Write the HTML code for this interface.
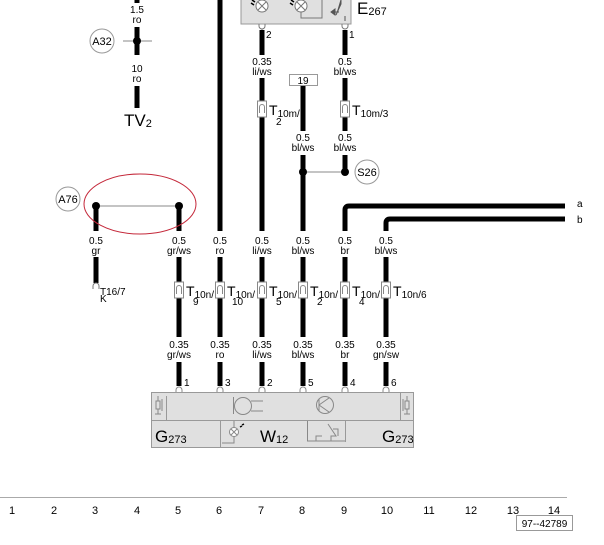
<!DOCTYPE html>
<html><head><meta charset="utf-8"><style>
html,body{margin:0;padding:0;background:#fff;}
svg{display:block;font-family:"Liberation Sans",Arial,sans-serif;}
.l{font-size:10px;fill:#000;text-anchor:middle;}
</style></head><body>
<svg width="604" height="545" viewBox="0 0 604 545" xmlns="http://www.w3.org/2000/svg">
<!-- TV2 wire area -->
<line x1="137" y1="0" x2="137" y2="3" stroke="#000" stroke-width="5"/>
<text class="l" x="137" y="13">1.5</text>
<text class="l" x="137" y="23">ro</text>
<line x1="137" y1="27" x2="137" y2="55" stroke="#000" stroke-width="5"/>
<line x1="123" y1="41" x2="152" y2="41" stroke="#888" stroke-width="1"/>
<circle cx="137" cy="41" r="4" fill="#000"/>
<circle cx="102" cy="41" r="12" fill="#fff" stroke="#999" stroke-width="1"/>
<text x="102" y="45" font-size="11" text-anchor="middle">A32</text>
<text class="l" x="137" y="72">10</text>
<text class="l" x="137" y="82">ro</text>
<line x1="137" y1="86" x2="137" y2="108" stroke="#000" stroke-width="5"/>
<text x="124" y="126" font-size="17">TV<tspan font-size="11" dy="1">2</tspan></text>

<!-- col6 long wire -->
<line x1="220" y1="0" x2="220" y2="231" stroke="#000" stroke-width="5"/>

<!-- E267 component -->
<rect x="241" y="-5" width="110" height="29" fill="#e0e0e0" stroke="#999" stroke-width="1"/>
<circle cx="262" cy="6" r="6" fill="#fff" stroke="#777"/>
<path d="M258 2 L266 10 M266 2 L258 10" stroke="#777" stroke-width="1"/>
<circle cx="301" cy="6" r="6" fill="#fff" stroke="#777"/>
<path d="M297 2 L305 10 M305 2 L297 10" stroke="#777" stroke-width="1"/>
<path d="M251 3 l3 2 M252 0 l3 2 M290 3 l3 2 M291 0 l3 2" stroke="#000" stroke-width="1.5"/>
<path d="M301 12 L301 18 L322 18 L322 -2" fill="none" stroke="#777" stroke-width="1"/>
<path d="M341 -2 L341 4 L336 15 M345 16 L345 21 M334 12 L339 12 M331 12 l4 -3 l0 6 z" fill="#555" stroke="#555" stroke-width="1"/>
<text x="357" y="14" font-size="17">E<tspan font-size="11" dy="1">267</tspan></text>
<path d="M259 24 L259 26 A3 3 0 0 0 265 26 L265 24 M262 29 L262 30" fill="none" stroke="#777" stroke-width="1"/>
<path d="M342 24 L342 26 A3 3 0 0 0 348 26 L348 24" fill="none" stroke="#777" stroke-width="1"/>
<text x="266" y="38" font-size="10">2</text>
<text x="349" y="38" font-size="10">1</text>

<!-- col7 top -->
<line x1="262" y1="30" x2="262" y2="55" stroke="#000" stroke-width="5"/>
<text class="l" x="262" y="65">0.35</text>
<text class="l" x="262" y="75">li/ws</text>
<line x1="262" y1="78" x2="262" y2="231" stroke="#000" stroke-width="5"/>
<rect x="257.5" y="101" width="9" height="16" fill="#fff" stroke="#888"/>
<path d="M259.5 113 L259.5 107 A2.5 2.5 0 0 1 264.5 107 L264.5 113" fill="none" stroke="#888"/>
<text x="269" y="115" font-size="14">T<tspan font-size="10" dy="2">10m/</tspan></text>
<text x="276" y="125" font-size="10">2</text>

<!-- col9 top -->
<line x1="345" y1="30" x2="345" y2="55" stroke="#000" stroke-width="5"/>
<text class="l" x="345" y="65">0.5</text>
<text class="l" x="345" y="75">bl/ws</text>
<line x1="345" y1="78" x2="345" y2="131" stroke="#000" stroke-width="5"/>
<rect x="340.5" y="101" width="9" height="16" fill="#fff" stroke="#888"/>
<path d="M342.5 113 L342.5 107 A2.5 2.5 0 0 1 347.5 107 L347.5 113" fill="none" stroke="#888"/>
<text x="352" y="115" font-size="14">T<tspan font-size="10" dy="2">10m/3</tspan></text>

<!-- 19 box & col8 -->
<rect x="289.5" y="74.5" width="28" height="11" fill="#fff" stroke="#999"/>
<text x="303" y="84" font-size="10" text-anchor="middle">19</text>
<line x1="303" y1="86" x2="303" y2="131" stroke="#000" stroke-width="5"/>
<text class="l" x="303" y="141">0.5</text>
<text class="l" x="303" y="151">bl/ws</text>
<text class="l" x="345" y="141">0.5</text>
<text class="l" x="345" y="151">bl/ws</text>
<line x1="303" y1="155" x2="303" y2="231" stroke="#000" stroke-width="5"/>
<line x1="345" y1="155" x2="345" y2="171" stroke="#000" stroke-width="5"/>
<line x1="303" y1="172" x2="345" y2="172" stroke="#888" stroke-width="1"/>
<circle cx="303" cy="172" r="4" fill="#000"/>
<circle cx="345" cy="172" r="4" fill="#000"/>
<circle cx="367" cy="172" r="12" fill="#fff" stroke="#999"/>
<text x="367" y="176" font-size="11" text-anchor="middle">S26</text>

<!-- a / b lines -->
<path d="M565 206 L349 206 Q345 206 345 210 L345 231" fill="none" stroke="#000" stroke-width="5"/>
<path d="M565 219 L390 219 Q386 219 386 223 L386 231" fill="none" stroke="#000" stroke-width="5"/>
<text x="577" y="207" font-size="10">a</text>
<text x="577" y="223" font-size="10">b</text>

<!-- A76 -->
<circle cx="68" cy="199" r="12" fill="#fff" stroke="#999"/>
<text x="68" y="203" font-size="11" text-anchor="middle">A76</text>
<line x1="96" y1="206" x2="179" y2="206" stroke="#888" stroke-width="1"/>
<line x1="96" y1="206" x2="96" y2="231" stroke="#000" stroke-width="5"/>
<line x1="179" y1="206" x2="179" y2="231" stroke="#000" stroke-width="5"/>
<circle cx="96" cy="206" r="4" fill="#000"/>
<circle cx="179" cy="206" r="4" fill="#000"/>
<ellipse cx="140" cy="204" rx="56" ry="30" fill="none" stroke="#c4283a" stroke-width="1"/>

<!-- labels row 0.5 -->
<text class="l" x="96" y="244">0.5</text><text class="l" x="96" y="254">gr</text>
<text class="l" x="179" y="244">0.5</text><text class="l" x="179" y="254">gr/ws</text>
<text class="l" x="220" y="244">0.5</text><text class="l" x="220" y="254">ro</text>
<text class="l" x="262" y="244">0.5</text><text class="l" x="262" y="254">li/ws</text>
<text class="l" x="303" y="244">0.5</text><text class="l" x="303" y="254">bl/ws</text>
<text class="l" x="345" y="244">0.5</text><text class="l" x="345" y="254">br</text>
<text class="l" x="386" y="244">0.5</text><text class="l" x="386" y="254">bl/ws</text>

<!-- col3 lower -->
<line x1="96" y1="257" x2="96" y2="283" stroke="#000" stroke-width="5"/>
<path d="M93 289 L93 286 A3 3 0 0 1 99 286 L99 289" fill="none" stroke="#777"/>
<text x="100" y="295" font-size="10">T16/7</text>
<text x="100" y="302" font-size="10">K</text>

<!-- lower wires -->
<g stroke="#000" stroke-width="5">
<line x1="179" y1="257" x2="179" y2="337"/>
<line x1="220" y1="257" x2="220" y2="337"/>
<line x1="262" y1="257" x2="262" y2="337"/>
<line x1="303" y1="257" x2="303" y2="337"/>
<line x1="345" y1="257" x2="345" y2="337"/>
<line x1="386" y1="257" x2="386" y2="337"/>
<line x1="179" y1="362" x2="179" y2="386"/>
<line x1="220" y1="362" x2="220" y2="386"/>
<line x1="262" y1="362" x2="262" y2="386"/>
<line x1="303" y1="362" x2="303" y2="386"/>
<line x1="345" y1="362" x2="345" y2="386"/>
<line x1="386" y1="362" x2="386" y2="386"/>
</g>
<!-- T10n connector boxes -->
<g fill="#fff" stroke="#888">
<rect x="174.5" y="282" width="9" height="16"/>
<rect x="215.5" y="282" width="9" height="16"/>
<rect x="257.5" y="282" width="9" height="16"/>
<rect x="298.5" y="282" width="9" height="16"/>
<rect x="340.5" y="282" width="9" height="16"/>
<rect x="381.5" y="282" width="9" height="16"/>
</g>
<g fill="none" stroke="#888">
<path d="M176.5 294 L176.5 288 A2.5 2.5 0 0 1 181.5 288 L181.5 294"/>
<path d="M217.5 294 L217.5 288 A2.5 2.5 0 0 1 222.5 288 L222.5 294"/>
<path d="M259.5 294 L259.5 288 A2.5 2.5 0 0 1 264.5 288 L264.5 294"/>
<path d="M300.5 294 L300.5 288 A2.5 2.5 0 0 1 305.5 288 L305.5 294"/>
<path d="M342.5 294 L342.5 288 A2.5 2.5 0 0 1 347.5 288 L347.5 294"/>
<path d="M383.5 294 L383.5 288 A2.5 2.5 0 0 1 388.5 288 L388.5 294"/>
</g>
<text x="186" y="296" font-size="14">T<tspan font-size="10" dy="2">10n/</tspan></text><text x="193" y="305" font-size="10">9</text>
<text x="227" y="296" font-size="14">T<tspan font-size="10" dy="2">10n/</tspan></text><text x="232" y="305" font-size="10">10</text>
<text x="269" y="296" font-size="14">T<tspan font-size="10" dy="2">10n/</tspan></text><text x="276" y="305" font-size="10">5</text>
<text x="310" y="296" font-size="14">T<tspan font-size="10" dy="2">10n/</tspan></text><text x="317" y="305" font-size="10">2</text>
<text x="352" y="296" font-size="14">T<tspan font-size="10" dy="2">10n/</tspan></text><text x="359" y="305" font-size="10">4</text>
<text x="393" y="296" font-size="14">T<tspan font-size="10" dy="2">10n/6</tspan></text>

<!-- 0.35 labels -->
<text class="l" x="179" y="348">0.35</text><text class="l" x="179" y="358">gr/ws</text>
<text class="l" x="220" y="348">0.35</text><text class="l" x="220" y="358">ro</text>
<text class="l" x="262" y="348">0.35</text><text class="l" x="262" y="358">li/ws</text>
<text class="l" x="303" y="348">0.35</text><text class="l" x="303" y="358">bl/ws</text>
<text class="l" x="345" y="348">0.35</text><text class="l" x="345" y="358">br</text>
<text class="l" x="386" y="348">0.35</text><text class="l" x="386" y="358">gn/sw</text>

<!-- pin numbers -->
<text x="184" y="386" font-size="10">1</text>
<text x="225" y="386" font-size="10">3</text>
<text x="267" y="386" font-size="10">2</text>
<text x="308" y="386" font-size="10">5</text>
<text x="350" y="386" font-size="10">4</text>
<text x="391" y="386" font-size="10">6</text>

<!-- bottom component -->
<rect x="151.5" y="392.5" width="262" height="55" fill="#e0e0e0" stroke="#999"/>
<line x1="151.5" y1="420.5" x2="413.5" y2="420.5" stroke="#999"/>
<line x1="220.5" y1="420.5" x2="220.5" y2="447.5" stroke="#999"/>
<line x1="345.5" y1="420.5" x2="345.5" y2="442" stroke="#999"/>
<line x1="166.5" y1="396" x2="166.5" y2="420.5" stroke="#999"/>
<line x1="400.5" y1="392.5" x2="400.5" y2="420.5" stroke="#999"/>
<g fill="none" stroke="#888">
<path d="M176 392 L176 390 A3 3 0 0 1 182 390 L182 392"/>
<path d="M217 392 L217 390 A3 3 0 0 1 223 390 L223 392"/>
<path d="M259 392 L259 390 A3 3 0 0 1 265 390 L265 392"/>
<path d="M300 392 L300 390 A3 3 0 0 1 306 390 L306 392"/>
<path d="M342 392 L342 390 A3 3 0 0 1 348 390 L348 392"/>
<path d="M383 392 L383 390 A3 3 0 0 1 389 390 L389 392"/>
<!-- left symbol -->
<rect x="156" y="401" width="4" height="8"/>
<path d="M158 396 L158 401 M158 409 L158 414 M162 399 L162 411 M155 414 L161 414"/>
<!-- speaker -->
<path d="M233.5 397 L233.5 414"/>
<circle cx="243" cy="406" r="8.5"/>
<path d="M251 401 L263 401 M251 411 L263 411"/>
<!-- transistor -->
<circle cx="325" cy="405" r="8.5"/>
<path d="M319 399 L319 411 M319 405 L329 398 M319 405 L329 412"/>
<!-- right symbol -->
<rect x="405" y="401" width="4" height="8"/>
<path d="M407 396 L407 401 M407 409 L407 414 M403 399 L403 411 M404 414 L410 414"/>
<!-- lamp -->
<circle cx="234" cy="432" r="4.5" fill="#fff"/>
<path d="M231 429 L237 435 M237 429 L231 435 M234 421 L234 427.5 M234 436.5 L234 443 L222 443"/>
<!-- switch box -->
<path d="M307.5 421 L307.5 441 L345 441"/>
<path d="M316 441 L316 436 L322 436 M331 441 L331 436 L336 436 L328 424 M333 429 L338 429 L338 436"/>
</g>
<path d="M240 427 l2 -1 M242 425 l2 -1" stroke="#000" stroke-width="1.5"/>
<text x="155" y="442" font-size="17">G<tspan font-size="11" dy="1">273</tspan></text>
<text x="260" y="442" font-size="17">W<tspan font-size="11" dy="1">12</tspan></text>
<text x="382" y="442" font-size="17">G<tspan font-size="11" dy="1">273</tspan></text>

<!-- bottom axis -->
<line x1="0" y1="497.5" x2="567" y2="497.5" stroke="#aaa" stroke-width="1"/>
<g font-size="11" text-anchor="middle">
<text x="12" y="514">1</text>
<text x="54" y="514">2</text>
<text x="95" y="514">3</text>
<text x="137" y="514">4</text>
<text x="178" y="514">5</text>
<text x="219" y="514">6</text>
<text x="261" y="514">7</text>
<text x="302" y="514">8</text>
<text x="344" y="514">9</text>
<text x="387" y="514">10</text>
<text x="429" y="514">11</text>
<text x="471" y="514">12</text>
<text x="513" y="514">13</text>
<text x="554" y="514">14</text>
</g>
<rect x="516.5" y="515.5" width="56" height="15" fill="#fff" stroke="#999"/>
<text x="544.5" y="527" font-size="10" text-anchor="middle">97--42789</text>
</svg>
</body></html>
